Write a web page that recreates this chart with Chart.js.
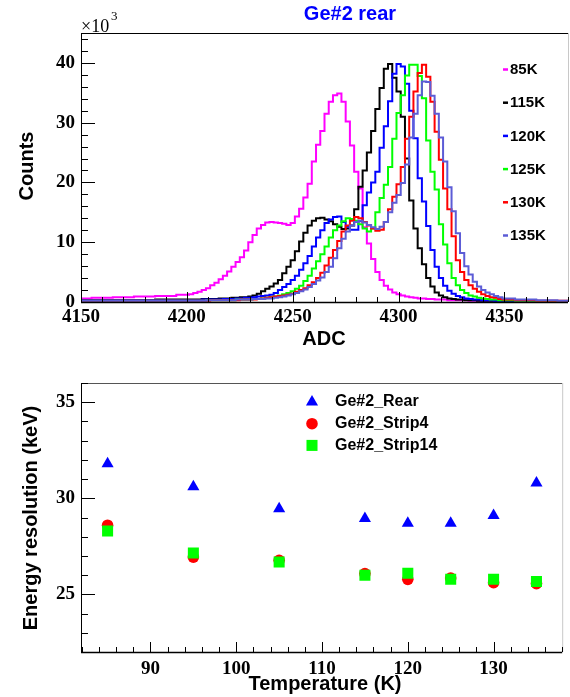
<!DOCTYPE html>
<html>
<head>
<meta charset="utf-8">
<title>Ge#2 rear</title>
<script src="https://cdn.jsdelivr.net/npm/chart.js@4.4.1/dist/chart.umd.min.js"></script>
<style>
  html, body { margin: 0; padding: 0; background: #fff; }
  canvas { display: block; }
</style>
</head>
<body>
<canvas id="spectrum-chart" width="570" height="350"></canvas>
<canvas id="resolution-chart" width="570" height="347"></canvas>
<script>
// ---- Top panel: ADC spectra (counts in units of 10^3) ----
// bin positions: coarse in the flat tails, 2 ADC wide around the peaks
let adcBins = [4150, 4160, 4170, 4180, 4190,
  4200, 4202, 4204, 4206, 4208, 4210, 4212, 4214, 4216, 4218,
  4220, 4222, 4224, 4226, 4228, 4230, 4232, 4234, 4236, 4238,
  4240, 4242, 4244, 4246, 4248, 4250, 4252, 4254, 4256, 4258,
  4260, 4262, 4264, 4266, 4268, 4270, 4272, 4274, 4276, 4278,
  4280, 4282, 4284, 4286, 4288, 4290, 4292, 4294, 4296, 4298,
  4300, 4302, 4304, 4306, 4308, 4310, 4312, 4314, 4316, 4318,
  4320, 4322, 4324, 4326, 4328, 4330, 4332, 4334, 4336, 4338,
  4340, 4342, 4344, 4346, 4348, 4350,
  4360, 4370, 4380]

let counts85K = [0.6, 0.7, 0.8, 0.9, 1.0,
  1.2, 1.3, 1.5, 1.7, 2.0, 2.3, 2.8, 3.2, 3.8, 4.4,
  5.1, 5.9, 6.7, 7.5, 8.6, 10.0, 11.2, 12.3, 12.9, 13.3,
  13.4, 13.3, 13.2, 13.1, 12.9, 13.2, 14.3, 15.6, 17.5, 19.8,
  23.5, 26.3, 28.6, 31.5, 33.5, 34.6, 34.9, 33.5, 30.2, 26.2,
  21.8, 19.0, 12.5, 9.8, 7.2, 5.0, 3.7, 2.7, 2.1, 1.6,
  1.3, 1.1, 0.9, 0.8, 0.7, 0.6, 0.6, 0.5, 0.5, 0.4,
  0.4, 0.4, 0.3, 0.3, 0.3, 0.3, 0.3, 0.2, 0.2, 0.2,
  0.2, 0.2, 0.2, 0.2, 0.1, 0.1,
  0.1, 0.1, 0.1]

let counts115K = [0.3, 0.3, 0.3, 0.3, 0.4,
  0.4, 0.4, 0.4, 0.4, 0.5, 0.5, 0.5, 0.5, 0.6, 0.6,
  0.6, 0.7, 0.7, 0.8, 0.8, 0.9, 1.1, 1.4, 1.8, 2.2,
  2.6, 3.1, 3.7, 4.8, 5.9, 7.0, 8.5, 10.1, 11.6, 12.8,
  13.6, 14.0, 14.1, 13.8, 13.5, 13.0, 12.6, 12.2, 12.3, 12.8,
  15.5, 19.3, 22.0, 25.0, 28.6, 32.3, 35.8, 39.0, 39.8, 37.5,
  35.2, 31.0, 24.0, 17.0, 12.3, 9.0, 6.3, 4.0, 2.6, 1.6,
  1.1, 0.8, 0.6, 0.5, 0.4, 0.4, 0.3, 0.3, 0.3, 0.2,
  0.2, 0.2, 0.2, 0.2, 0.2, 0.1,
  0.1, 0.1, 0.1]

let counts120K = [0.3, 0.3, 0.3, 0.3, 0.3,
  0.3, 0.3, 0.3, 0.3, 0.4, 0.4, 0.4, 0.4, 0.4, 0.5,
  0.5, 0.5, 0.6, 0.6, 0.7, 0.7, 0.8, 0.9, 1.0, 1.1,
  1.2, 1.5, 2.0, 2.5, 3.0, 3.7, 4.4, 5.4, 6.5, 7.7,
  9.3, 10.8, 12.0, 13.2, 13.8, 14.2, 14.3, 13.4, 12.6, 12.1,
  12.1, 13.5, 16.2, 18.3, 20.0, 21.8, 25.8, 29.4, 33.6, 38.2,
  39.8, 39.4, 36.5, 32.0, 27.4, 20.7, 16.8, 12.7, 8.7, 5.9,
  4.0, 2.7, 1.9, 1.4, 1.0, 0.8, 0.6, 0.5, 0.4, 0.4,
  0.3, 0.3, 0.3, 0.2, 0.2, 0.2,
  0.1, 0.1, 0.1]

let counts125K = [0.2, 0.2, 0.2, 0.2, 0.2,
  0.2, 0.2, 0.2, 0.2, 0.2, 0.3, 0.3, 0.3, 0.3, 0.3,
  0.3, 0.3, 0.4, 0.4, 0.4, 0.4, 0.5, 0.5, 0.6, 0.7,
  0.8, 0.9, 1.1, 1.3, 1.5, 1.8, 2.2, 2.7, 3.5, 4.4,
  5.6, 6.8, 8.0, 9.3, 10.8, 12.0, 12.8, 13.5, 14.0, 13.9,
  13.6, 13.0, 12.3, 11.8, 12.3, 15.0, 17.4, 19.6, 22.6, 27.3,
  31.6, 34.6, 37.9, 39.7, 39.7, 37.8, 34.1, 27.0, 21.8, 18.8,
  13.0, 9.6, 6.5, 4.0, 2.8, 2.0, 1.5, 1.1, 0.9, 0.7,
  0.6, 0.5, 0.4, 0.4, 0.3, 0.3,
  0.2, 0.1, 0.1]

let counts130K = [0.2, 0.2, 0.2, 0.2, 0.2,
  0.2, 0.2, 0.2, 0.2, 0.2, 0.2, 0.3, 0.3, 0.3, 0.3,
  0.3, 0.3, 0.3, 0.4, 0.4, 0.4, 0.4, 0.5, 0.6, 0.7,
  0.8, 0.9, 1.0, 1.1, 1.2, 1.4, 1.7, 2.0, 2.3, 2.8,
  3.3, 4.0, 4.9, 6.1, 7.4, 8.7, 10.2, 11.8, 12.8, 13.6,
  14.2, 14.0, 13.4, 12.8, 12.3, 11.9, 12.1, 13.4, 15.5, 17.6,
  19.7, 22.6, 27.3, 31.0, 35.2, 38.3, 39.7, 37.7, 33.5, 28.5,
  23.8, 19.0, 15.5, 11.0, 7.0, 5.0, 3.7, 2.8, 2.2, 1.7,
  1.3, 1.0, 0.8, 0.7, 0.5, 0.4,
  0.3, 0.2, 0.2]

let counts135K = [0.2, 0.2, 0.2, 0.2, 0.2,
  0.2, 0.2, 0.2, 0.2, 0.2, 0.3, 0.3, 0.3, 0.3, 0.3,
  0.3, 0.3, 0.4, 0.4, 0.4, 0.4, 0.5, 0.5, 0.5, 0.6,
  0.6, 0.7, 0.8, 0.9, 1.1, 1.3, 1.5, 1.8, 2.1, 2.5,
  3.0, 3.6, 4.1, 5.0, 5.9, 7.3, 9.0, 10.6, 11.8, 12.8,
  13.4, 13.6, 13.3, 12.9, 12.5, 12.2, 12.6, 13.4, 15.0, 16.6,
  17.9, 19.9, 23.0, 27.5, 31.5, 34.6, 36.9, 36.8, 34.5, 31.5,
  27.5, 23.5, 19.2, 15.2, 11.5, 8.2, 6.0, 4.6, 3.4, 2.6,
  2.0, 1.6, 1.3, 1.0, 0.8, 0.6,
  0.4, 0.3, 0.2]

let spectrumLabels = ['85K', '115K', '120K', '125K', '130K', '135K']
let spectrumCounts = [counts85K, counts115K, counts120K, counts125K, counts130K, counts135K]
let spectrumColors = ['#ff00ff', '#000000', '#0000ff', '#00ff00', '#ff0000', '#5c5cd6']
let adcTicks = [4150, 4200, 4250, 4300, 4350]
let countTicks = [0, 10, 20, 30, 40]

// ---- Bottom panel: energy resolution vs temperature ----
let temperatures = [85, 95, 105, 115, 120, 125, 130, 135]
let resRear = [31.8, 30.6, 29.45, 28.95, 28.7, 28.7, 29.1, 30.8]
let resStrip4 = [28.6, 26.94, 26.77, 26.08, 25.78, 25.85, 25.61, 25.56]
let resStrip14 = [28.3, 27.15, 26.68, 25.99, 26.1, 25.79, 25.79, 25.67]
let resLabels = ['Ge#2_Rear', 'Ge#2_Strip4', 'Ge#2_Strip14']
let tempTicks = [90, 100, 110, 120, 130]
let resTicks = [25, 30, 35]

let tickFont = { family: 'Liberation Serif', weight: 'bold', size: 19 }
let sansBold = 'bold 20px "Liberation Sans", Arial, sans-serif'

// Build a linear axis with a fixed size so the plot frame lands where the original has it
function axisOptions(min, max, tickValues, isX, size, pad) {
    return {
        type: 'linear',
        min: min,
        max: max,
        grid: { display: false, drawTicks: false },
        border: { display: false },
        ticks: {
            color: '#000', font: tickFont, padding: pad, maxRotation: 0, autoSkip: false,
            callback: value => String(value)
        },
        afterBuildTicks: function(axis) {
            axis.ticks = tickValues.map(v => ({ value: v }))
        },
        afterFit: function(axis) {
            if (isX) axis.height = size
            else axis.width = size
        }
    }
}

// list of minor/major tick positions between the axis limits
function tickMarks(scale, minorStep, majorStep) {
    let out = []
    let start = Math.ceil(scale.min / minorStep - 1e-6) * minorStep
    for (let v = start; v <= scale.max + 1e-6; v += minorStep) {
        let r = Math.round(v * 1000) / 1000
        let q = r / majorStep
        out.push({ value: r, major: Math.abs(q - Math.round(q)) < 1e-6 })
    }
    return out
}

// ROOT-like frame: axes with inward ticks, dark top edge, light right edge
function drawFrame(chart, frame) {
    let ctx = chart.ctx
    let area = chart.chartArea
    let xs = chart.scales.x
    let ys = chart.scales.y
    ctx.save()
    ctx.lineWidth = 1
    ctx.strokeStyle = frame.topColor
    ctx.beginPath()
    ctx.moveTo(area.left, area.top + 0.5)
    ctx.lineTo(area.right, area.top + 0.5)
    ctx.stroke()
    ctx.strokeStyle = '#c8c8c8'
    ctx.beginPath()
    ctx.moveTo(area.right + 0.5, area.top)
    ctx.lineTo(area.right + 0.5, area.bottom)
    ctx.stroke()

    ctx.strokeStyle = '#000'
    ctx.beginPath()
    ctx.moveTo(area.left + 0.5, area.top)
    ctx.lineTo(area.left + 0.5, area.bottom + 1)
    ctx.stroke()
    ctx.lineWidth = 1.6
    ctx.beginPath()
    ctx.moveTo(area.left, area.bottom + 0.5)
    ctx.lineTo(area.right, area.bottom + 0.5)
    ctx.stroke()

    ctx.lineWidth = 1
    ctx.beginPath()
    tickMarks(xs, frame.xMinor, frame.xMajor).forEach(function(t) {
        let px = Math.round(xs.getPixelForValue(t.value)) + 0.5
        ctx.moveTo(px, area.bottom)
        ctx.lineTo(px, area.bottom - (t.major ? 10 : 5))
    })
    tickMarks(ys, frame.yMinor, frame.yMajor).forEach(function(t) {
        let py = Math.round(ys.getPixelForValue(t.value)) + 0.5
        ctx.moveTo(area.left, py)
        ctx.lineTo(area.left + (t.major ? 14 : 7), py)
    })
    ctx.stroke()
    ctx.restore()
}

function rotatedText(ctx, text, x, y) {
    ctx.save()
    ctx.translate(x, y)
    ctx.rotate(-Math.PI / 2)
    ctx.textAlign = 'center'
    ctx.textBaseline = 'alphabetic'
    ctx.fillText(text, 0, 0)
    ctx.restore()
}

let spectrumDecor = {
    id: 'spectrumDecor',
    afterDatasetsDraw: function(chart) {
        drawFrame(chart, { xMinor: 10, xMajor: 50, yMinor: 2, yMajor: 10, topColor: '#000' })
        let ctx = chart.ctx
        ctx.save()
        ctx.fillStyle = '#0000ff'
        ctx.font = 'bold 20px "Liberation Sans", Arial, sans-serif'
        ctx.textAlign = 'center'
        ctx.textBaseline = 'alphabetic'
        ctx.fillText('Ge#2 rear', 350, 19.5)

        ctx.fillStyle = '#000'
        ctx.textAlign = 'left'
        ctx.font = '18px "Liberation Serif", serif'
        ctx.fillText('×10', 81, 31.5)
        ctx.font = '13px "Liberation Serif", serif'
        ctx.fillText('3', 111, 20)

        ctx.font = sansBold
        ctx.textAlign = 'center'
        ctx.fillText('ADC', 324, 345)
        rotatedText(ctx, 'Counts', 33, 166)

        // legend entries come from the datasets
        ctx.font = 'bold 15px "Liberation Sans", Arial, sans-serif'
        ctx.textAlign = 'left'
        ctx.textBaseline = 'middle'
        chart.data.datasets.forEach(function(ds, i) {
            let y = 69.5 + i * 33.2
            ctx.strokeStyle = ds.borderColor
            ctx.lineWidth = 2.5
            ctx.beginPath()
            ctx.moveTo(503, y)
            ctx.lineTo(508, y)
            ctx.stroke()
            ctx.fillStyle = '#000'
            ctx.fillText(ds.label, 510, y + 0.5)
        })
        ctx.restore()
    }
}

// Create the spectrum chart
let spectrumCanvas = document.querySelector('#spectrum-chart')
let spectrumChart = new Chart(spectrumCanvas.getContext('2d'), {
    type: 'line',
    data: {
        datasets: spectrumLabels.map(function(label, i) {
            return {
                label: label,
                data: adcBins.map((adc, j) => ({ x: adc, y: spectrumCounts[i][j] })),
                borderColor: spectrumColors[i],
                borderWidth: 2,
                stepped: 'middle',
                pointRadius: 0,
                fill: false,
                order: spectrumLabels.length - i
            }
        })
    },
    options: {
        responsive: false,
        animation: false,
        devicePixelRatio: 1,
        layout: { padding: { top: 33, right: 2, left: 0, bottom: 0 } },
        plugins: { legend: { display: false }, tooltip: { enabled: false } },
        scales: {
            x: axisOptions(4150, 4380, adcTicks, true, 48, 4),
            y: axisOptions(0, 45, countTicks, false, 81, 6)
        }
    },
    plugins: [spectrumDecor]
})

// marker shapes drawn the same way Chart.js draws its point styles
function drawMarker(ctx, style, r, x, y, color) {
    ctx.fillStyle = color
    ctx.beginPath()
    if (style === 'triangle') {
        ctx.moveTo(x, y - r)
        ctx.lineTo(x + r * Math.sin(2 * Math.PI / 3), y + r / 2)
        ctx.lineTo(x - r * Math.sin(2 * Math.PI / 3), y + r / 2)
        ctx.closePath()
    } else if (style === 'rect') {
        let s = r * Math.SQRT1_2
        ctx.rect(x - s, y - s, 2 * s, 2 * s)
    } else {
        ctx.arc(x, y, r, 0, 2 * Math.PI)
    }
    ctx.fill()
}

let resolutionDecor = {
    id: 'resolutionDecor',
    afterDatasetsDraw: function(chart) {
        drawFrame(chart, { xMinor: 2, xMajor: 10, yMinor: 1, yMajor: 5, topColor: '#555' })
        let ctx = chart.ctx
        ctx.save()
        ctx.fillStyle = '#000'
        ctx.font = sansBold
        ctx.textAlign = 'center'
        ctx.textBaseline = 'alphabetic'
        ctx.fillText('Temperature (K)', 325, 340)
        rotatedText(ctx, 'Energy resolution (keV)', 36.5, 168)

        // legend: order of the datasets, markers from their own point options
        ctx.font = 'bold 16px "Liberation Sans", Arial, sans-serif'
        ctx.textAlign = 'left'
        ctx.textBaseline = 'middle'
        chart.data.datasets.forEach(function(ds, i) {
            let y = 52 + i * 21.7
            drawMarker(ctx, ds.pointStyle, ds.pointRadius, 312, y, ds.backgroundColor)
            ctx.fillStyle = '#000'
            ctx.fillText(ds.label, 335, y)
        })
        ctx.restore()
    }
}

// Create the resolution chart
let resolutionCanvas = document.querySelector('#resolution-chart')
let resolutionChart = new Chart(resolutionCanvas.getContext('2d'), {
    type: 'scatter',
    data: {
        datasets: [
            {
                label: resLabels[0],
                data: temperatures.map((t, j) => ({ x: t, y: resRear[j] })),
                pointStyle: 'triangle', pointRadius: 7, borderWidth: 0,
                backgroundColor: '#0000ff', order: 3
            },
            {
                label: resLabels[1],
                data: temperatures.map((t, j) => ({ x: t, y: resStrip4[j] })),
                pointStyle: 'circle', pointRadius: 5.8, borderWidth: 0,
                backgroundColor: '#ff0000', order: 2
            },
            {
                label: resLabels[2],
                data: temperatures.map((t, j) => ({ x: t, y: resStrip14[j] })),
                pointStyle: 'rect', pointRadius: 7.8, borderWidth: 0,
                backgroundColor: '#00ff00', order: 1
            }
        ]
    },
    options: {
        responsive: false,
        animation: false,
        devicePixelRatio: 1,
        layout: { padding: { top: 33, right: 1, left: 0, bottom: 0 } },
        plugins: { legend: { display: false }, tooltip: { enabled: false } },
        scales: {
            x: axisOptions(81.9, 138, tempTicks, true, 45, 6),
            y: axisOptions(22, 36, resTicks, false, 81, 6)
        }
    },
    plugins: [resolutionDecor]
})
</script>
</body>
</html>
